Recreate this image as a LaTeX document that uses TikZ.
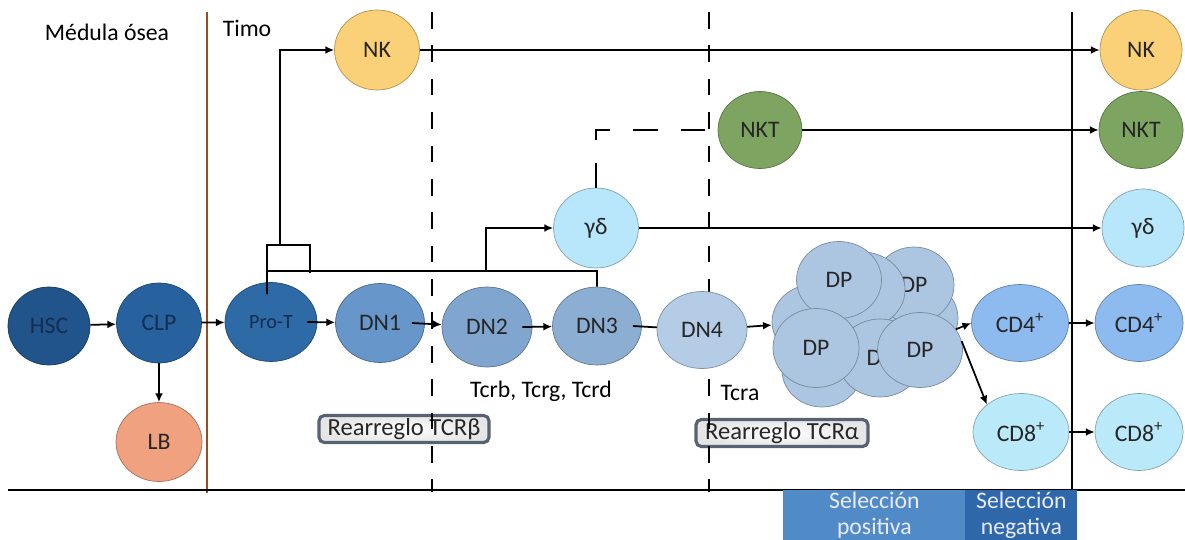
\documentclass[tikz,border=0pt]{standalone}
\usepackage{fontspec}
\setmainfont{Carlito}
\usetikzlibrary{arrows.meta, positioning, shapes.geometric}
\definecolor{hscblue}{RGB}{32,84,138}
\definecolor{clpblue}{RGB}{40,98,158}
\definecolor{protblue}{RGB}{46,106,165}
\definecolor{dnone}{RGB}{102,150,202}
\definecolor{dntwo}{RGB}{128,166,207}
\definecolor{dnthree}{RGB}{140,174,211}
\definecolor{dnfour}{RGB}{180,204,229}
\definecolor{dpblue}{RGB}{172,198,225}
\definecolor{cdfour}{RGB}{142,187,239}
\definecolor{cdeight}{RGB}{186,233,250}
\definecolor{gdcyan}{RGB}{184,230,250}
\definecolor{nkyellow}{RGB}{250,208,120}
\definecolor{nktgreen}{RGB}{125,164,96}
\definecolor{lbsalmon}{RGB}{239,161,128}
\definecolor{timobrown}{RGB}{155,75,35}
\definecolor{navytext}{RGB}{20,45,80}
\definecolor{tagslate}{RGB}{88,98,115}
\definecolor{selpos}{RGB}{80,139,199}
\definecolor{selneg}{RGB}{46,104,170}

\begin{document}
\begin{tikzpicture}[x=0.02cm, y=-0.02cm, every node/.style={font=\fontsize{13.5}{16}\selectfont},
  cell/.style={ellipse, draw=#1!70!black, fill=#1, inner sep=0pt, line width=0.4pt,
               minimum width=1.72cm, minimum height=1.58cm, text=black!85},
  link/.style={->, >={Latex[length=5pt,width=4.5pt]}, line width=1pt},
  line/.style={line width=1pt},
  divider/.style={line width=1pt, dash pattern=on 9.5pt off 9.5pt},
  tag/.style={rounded corners=3pt, draw=tagslate, line width=1.8pt,
              inner color=white, outer color=black!10, minimum width=3.4cm,
              minimum height=0.54cm, inner sep=0pt, text=black!85,
              font=\fontsize{14}{16}\selectfont},
  selbox/.style={anchor=north west, minimum height=1.0cm, inner sep=0pt, align=center,
                 text=white!92!blue, font=\fontsize{13.5}{15}\selectfont}]
  \useasboundingbox (0,0) rectangle (1185,540);

  % Rearrangement tags (under the dashed dividers)
  \node[tag] (rtb) at (404,429) {Rearreglo TCRβ};
  \node[tag, minimum width=3.44cm] (rta) at (782,433) {Rearreglo TCRα};

  % Compartments
  \draw[line, timobrown] (207,12) -- (207,493);
  \draw[divider] (432,12) -- (432,492);
  \draw[divider] (709,12) -- (709,492);
  \draw[line] (1072,12) -- (1072,490);
  \draw[line] (8,490) -- (1185,490);

  % Selection boxes
  \node[selbox, fill=selpos, minimum width=3.64cm] (spos) at (783,490) {Selección\\positiva};
  \node[selbox, fill=selneg, minimum width=2.24cm] (sneg) at (965,490) {Selección\\negativa};

  % Bone marrow
  \node[cell=hscblue, text=navytext, minimum width=1.64cm, minimum height=1.56cm] (HSC) at (49,326) {HSC};
  \node[cell=clpblue, text=navytext, minimum width=1.7cm, minimum height=1.6cm] (CLP) at (159,323) {CLP};
  \node[cell=lbsalmon] (LB) at (159,442) {LB};

  % Thymus: DN stages
  \node[cell=protblue, text=navytext, minimum width=1.84cm, font=\fontsize{11.5}{13}\selectfont] (ProT) at (271,322) {Pro-T};
  \node[cell=dnone, minimum width=1.78cm] (DN1) at (380,323) {DN1};
  \node[cell=dntwo, minimum width=1.8cm, minimum height=1.6cm] (DN2) at (487,327) {DN2};
  \node[cell=dnthree, minimum width=1.78cm, minimum height=1.56cm] (DN3) at (597,326) {DN3};
  \node[cell=dnfour, minimum width=1.8cm, minimum height=1.54cm] (DN4) at (702,330) {DN4};

  % Other lineages
  \node[cell=nkyellow, minimum width=1.7cm, minimum height=1.6cm] (NK) at (377,50) {NK};
  \node[cell=nktgreen, minimum width=1.68cm, minimum height=1.54cm] (NKT) at (760,130) {NKT};
  \node[cell=gdcyan, minimum width=1.7cm, minimum height=1.6cm] (gd) at (596,228) {γδ};

  % DP cluster, back to front
  \node[cell=dpblue, minimum width=1.72cm, minimum height=1.52cm] (dpa) at (815,322) {};
  \node[cell=dpblue, minimum width=1.6cm, minimum height=1.48cm] (dpb) at (822,370) {};
  \node[cell=dpblue, minimum width=1.72cm, minimum height=1.52cm] (dpe) at (915,318) {};
  \node[cell=dpblue, minimum width=1.6cm, minimum height=1.52cm] (dpg) at (914,285) {DP};
  \node[cell=dpblue, minimum width=1.72cm, minimum height=1.52cm] (dpd) at (862,290) {};
  \node[cell=dpblue, minimum width=1.7cm, minimum height=1.54cm] (dpf) at (839,280) {DP};
  \node[cell=dpblue, minimum width=1.7cm, minimum height=1.56cm] (dpc) at (880,358) {DP};
  \node[cell=dpblue, minimum width=1.72cm, minimum height=1.58cm] (dph) at (816,348) {DP};
  \node[cell=dpblue, minimum width=1.7cm, minimum height=1.5cm] (dpi) at (920,350) {DP};

  % Single positive
  \node[cell=cdfour, minimum width=1.94cm, minimum height=1.54cm] (CD4) at (1020,323) {CD4\textsuperscript{+}};
  \node[cell=cdeight, minimum width=1.92cm, minimum height=1.54cm] (CD8) at (1021,432) {CD8\textsuperscript{+}};

  % Periphery
  \node[cell=nkyellow, minimum width=1.64cm, minimum height=1.6cm] (NKr) at (1141,50) {NK};
  \node[cell=nktgreen, minimum width=1.68cm, minimum height=1.54cm] (NKTr) at (1141,130) {NKT};
  \node[cell=gdcyan, minimum width=1.64cm, minimum height=1.56cm] (gdr) at (1143,228) {γδ};
  \node[cell=cdfour, minimum width=1.76cm, minimum height=1.54cm] (CD4r) at (1139,323) {CD4\textsuperscript{+}};
  \node[cell=cdeight, minimum width=1.76cm, minimum height=1.54cm] (CD8r) at (1139,432) {CD8\textsuperscript{+}};

  % Labels
  \node (medula) at (107,32) {Médula ósea};
  \node (timo) at (247,28) {Timo};
  \node (tcrb) at (541,391) {Tcrb, Tcrg, Tcrd};
  \node (tcra) at (740,393) {Tcra};

  % Main path
  \draw[link] (HSC) -- (CLP);
  \draw[link] (CLP) -- (LB);
  \draw[link] (CLP) -- (ProT);
  \draw[link] ([xshift=-0.2cm]ProT.east) -- (DN1);
  \draw[link] ([xshift=-0.26cm]DN1.east) -- (DN2);
  \draw[link] ([xshift=-0.2cm]DN2.east) -- (DN3);
  \draw[line] ([xshift=-0.18cm]DN3.east) -- (DN4);
  \draw[link] (DN4) -- (dpa);
  \draw[link] (dpi.30) -- (CD4.west);
  \draw[link] (dpi.12) -- (CD8.north west);

  % Branches
  \coordinate (split) at (267,271);
  \coordinate (brk) at (310,245);
  \coordinate (brkend) at (310,273);
  \coordinate (nkfork) at (280,245);
  \coordinate (gdfork) at (486,271);
  \draw[line] ([xshift=-0.08cm,yshift=-0.24cm]ProT.north) -- (split) -- (split -| DN3.north) -- (DN3.north);
  \draw[line] (split) |- (brk) -- (brkend);
  \draw[link] (nkfork) |- (NK.west);
  \draw[link] (gdfork) |- (gd.west);
  \draw[line, dash pattern=on 14pt off 13pt] (gd.north) |- (NKT.west);

  % To periphery
  \draw[link] (NK) -- (NKr);
  \draw[link] (NKT) -- (NKTr);
  \draw[link] (gd) -- (gdr);
  \draw[link] (CD4) -- (CD4r);
  \draw[link] (CD8) -- (CD8r);
\end{tikzpicture}
\end{document}
